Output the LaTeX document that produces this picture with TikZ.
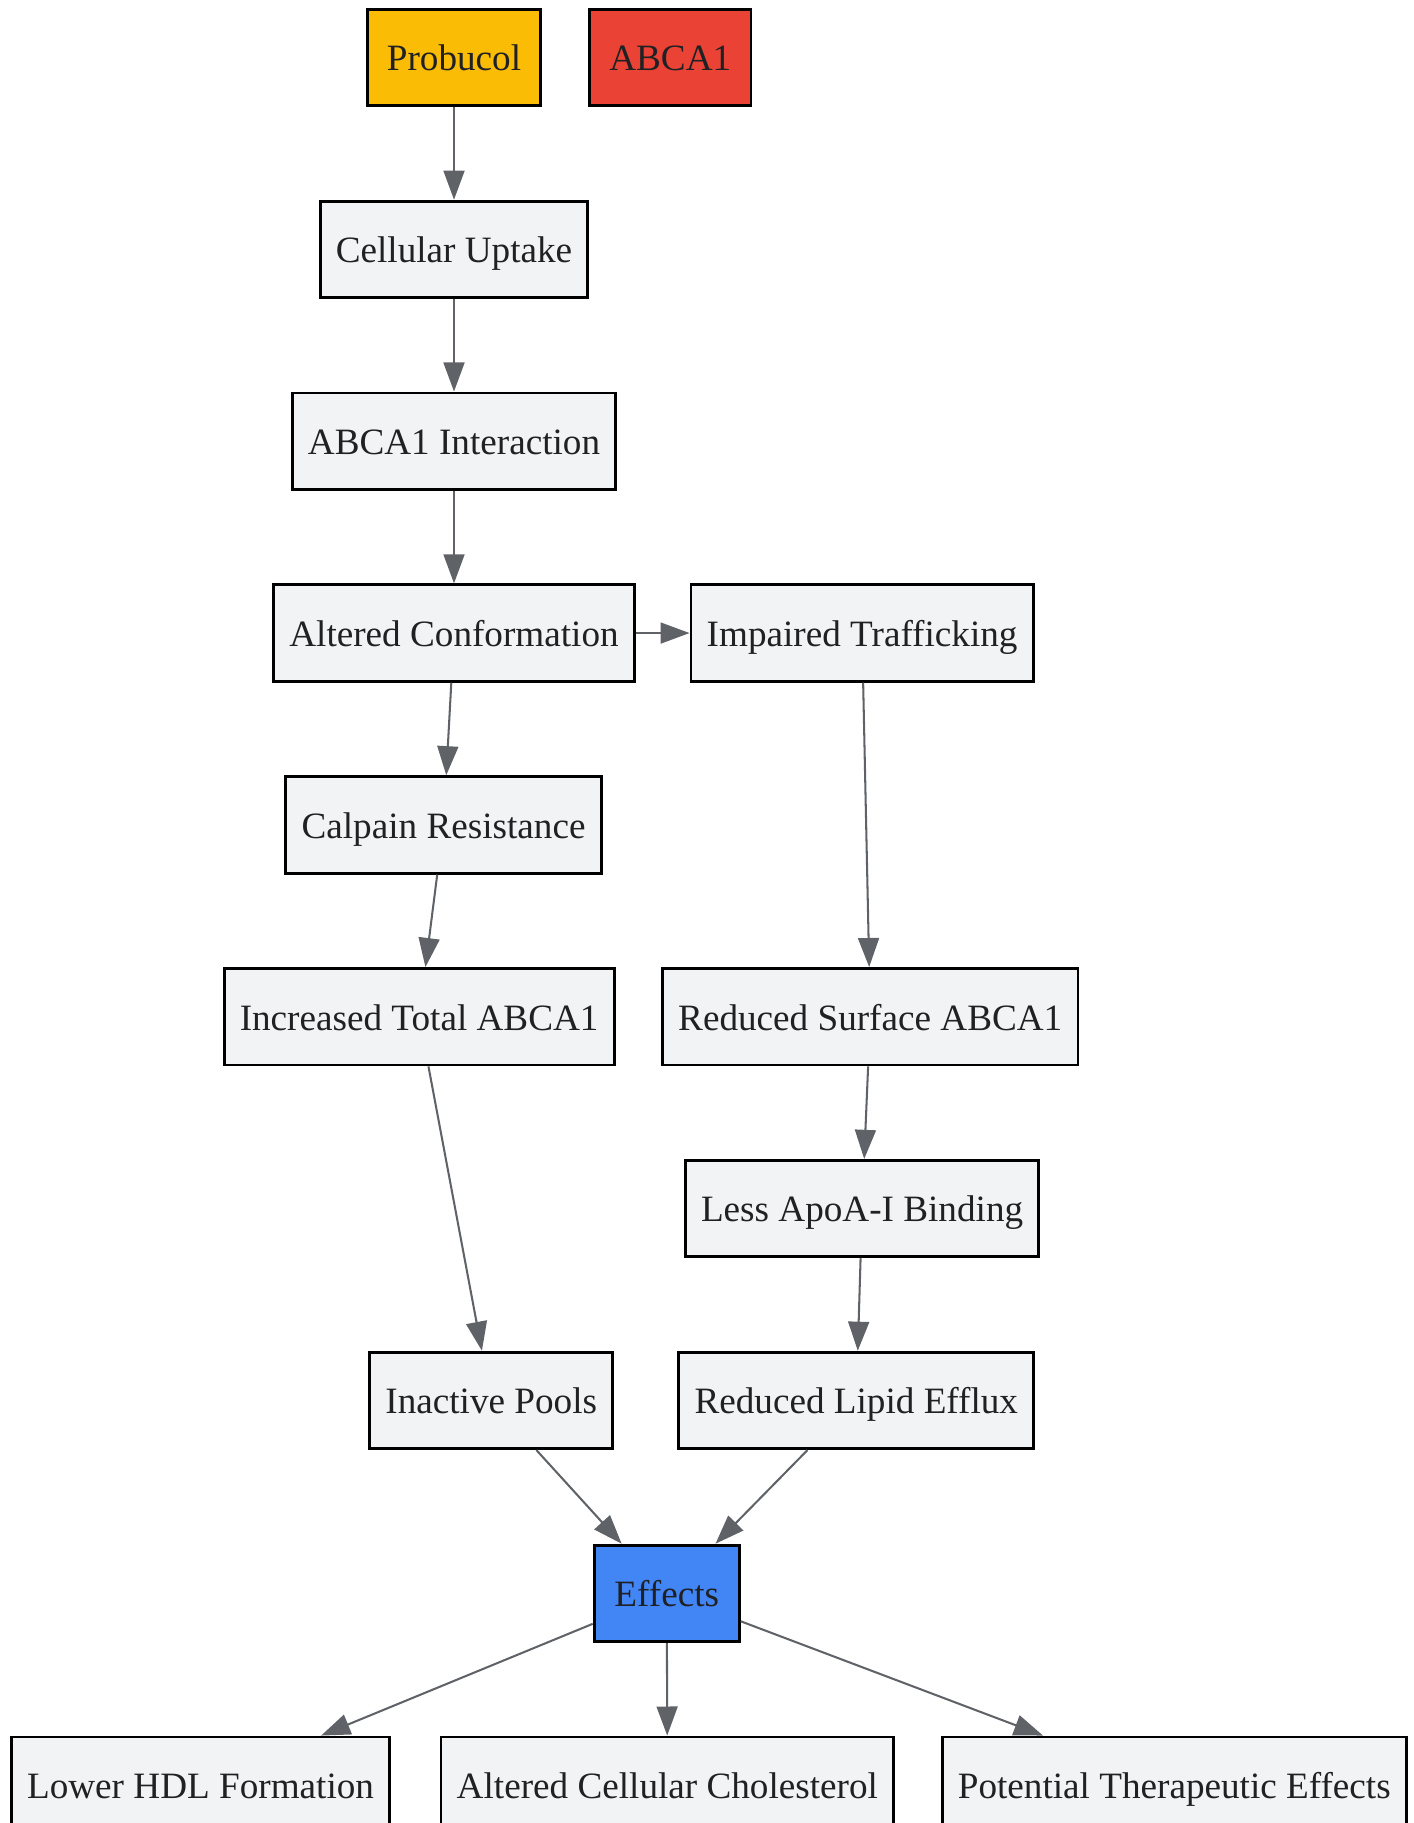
\documentclass[tikz,border=0pt]{standalone}
\usepackage{fontspec}
\setmainfont{Liberation Serif}
\usetikzlibrary{arrows.meta}

\definecolor{boxgray}{HTML}{F1F3F4}
\definecolor{edgegray}{HTML}{5F6368}
\definecolor{txtdark}{HTML}{202124}
\definecolor{gyellow}{HTML}{FBBC05}
\definecolor{gred}{HTML}{EA4335}
\definecolor{gblue}{HTML}{4285F4}

\begin{document}
\begin{tikzpicture}[x=0.02cm,y=-0.02cm,
	stepbox/.style={draw=black,line width=1.4pt,fill=boxgray,text=txtdark,
		minimum height=1.66cm,minimum width=2.5cm,inner xsep=0.27cm,
		text height=16pt,text depth=3pt,
		font=\fontsize{18.2}{22}\selectfont},
	flow/.style={draw=edgegray,line width=1pt,
		-{Triangle[length=0.5cm,width=0.36cm]}}]
\useasboundingbox (0,0) rectangle (1216,1568);
\node[stepbox,fill=gyellow,minimum width=2.98cm](probucol) at (390.5,49.5){Probucol};
\node[stepbox,fill=gred,minimum width=2.78cm](abca) at (576.5,49.5){ABCA1};
\node[stepbox](uptake) at (390.5,214.5){Cellular Uptake};
\node[stepbox](interact) at (390.5,379.5){ABCA1 Interaction};
\node[stepbox](conform) at (390.5,544.5){Altered Conformation};
\node[stepbox](traffic) at (741.5,544.5){Impaired Trafficking};
\node[stepbox](calpain) at (381.5,709.5){Calpain Resistance};
\node[stepbox](total) at (360.5,874.5){Increased Total ABCA1};
\node[stepbox](surface) at (748.5,874.5){Reduced Surface ABCA1};
\node[stepbox](apoa) at (741.5,1039.5){Less ApoA-I Binding};
\node[stepbox](pools) at (422.5,1204.5){Inactive Pools};
\node[stepbox](efflux) at (736.5,1204.5){Reduced Lipid Efflux};
\node[stepbox,fill=gblue](effects) at (573.5,1370.5){Effects};
\node[stepbox](hdl) at (172.5,1535.5){Lower HDL Formation};
\node[stepbox](chol) at (574,1535.5){Altered Cellular Cholesterol};
\node[stepbox](thera) at (1010,1535.5){Potential Therapeutic Effects};
\draw[flow] (probucol)--(uptake);
\draw[flow] (uptake)--(interact);
\draw[flow] (interact)--(conform);
\draw[flow] (conform)--(traffic);
\draw[flow] (conform)--(calpain);
\draw[flow] (calpain)--(total);
\draw[flow] (traffic)--(surface);
\draw[flow] (total)--(pools);
\draw[flow] (surface)--(apoa);
\draw[flow] (apoa)--(efflux);
\draw[flow] (pools)--(effects);
\draw[flow] (efflux)--(effects);
\draw[flow] (effects)--(hdl);
\draw[flow] (effects)--(chol);
\draw[flow] (effects)--(thera);
\end{tikzpicture}
\end{document}
